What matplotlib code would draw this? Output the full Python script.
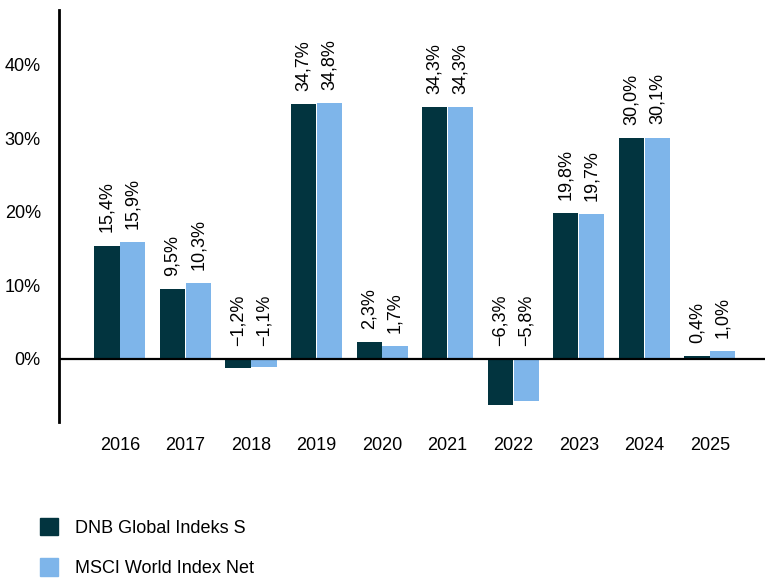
import numpy as np
import matplotlib.pyplot as plt
from matplotlib.patches import Patch

plt.rcParams['font.family'] = ['Liberation Sans', 'DejaVu Sans']

years = ['2016', '2017', '2018', '2019', '2020', '2021', '2022', '2023', '2024', '2025']
fund = [15.4, 9.5, -1.2, 34.7, 2.3, 34.3, -6.3, 19.8, 30.0, 0.4]
index = [15.9, 10.3, -1.1, 34.8, 1.7, 34.3, -5.8, 19.7, 30.1, 1.0]
series_names = ['DNB Global Indeks S', 'MSCI World Index Net']
colors = ['#02343f', '#7eb5ea']


def fmt(v):
    s = f'{v:.1f}%'.replace('.', ',')
    return s.replace('-', '\u2212')


fig = plt.figure(figsize=(7.65, 5.78), dpi=100)
ax = fig.add_axes([0.077, 0.27, 0.923, 0.713])

x = np.arange(len(years))
w = 0.385
for vals, off, col in [(fund, -w / 2 - 0.005, colors[0]), (index, w / 2 + 0.005, colors[1])]:
    ax.bar(x + off, vals, width=w, color=col, zorder=2)
    for xi, v in zip(x + off, vals):
        ax.annotate(fmt(v), (xi, max(v, 0)), xytext=(0, 9.5), textcoords='offset points',
                    rotation=90, ha='center', va='bottom', fontsize=13)

ax.axhline(0, color='black', lw=1.6, zorder=3)
ax.set_xlim(-0.93, 9.84)
ax.set_ylim(-8.6, 47.5)
ax.set_yticks([0, 10, 20, 30, 40])
ax.set_yticklabels([f'{t}%' for t in [0, 10, 20, 30, 40]])
ax.set_xticks(x)
ax.set_xticklabels(years)
ax.tick_params(length=0, labelsize=13)
ax.tick_params(axis='x', pad=11)
ax.tick_params(axis='y', pad=13)
for s in ['top', 'right', 'bottom']:
    ax.spines[s].set_visible(False)
ax.spines['left'].set_linewidth(2)

handles = [Patch(color=c) for c in colors]
fig.legend(handles, series_names, loc='lower left', bbox_to_anchor=(0.031, -0.027),
           frameon=False, fontsize=13, handlelength=1.0, handleheight=1.15,
           labelspacing=1.2, handletextpad=0.95)

fig.savefig('out.png', dpi=100)
